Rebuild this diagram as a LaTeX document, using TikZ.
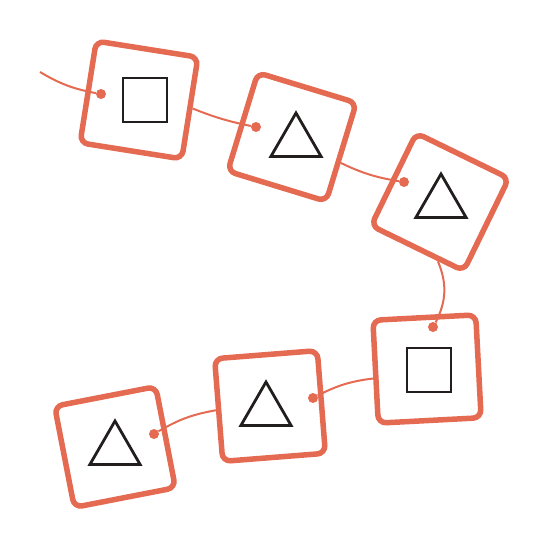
\documentclass[tikz,border=0pt]{standalone}
\usepackage{tikz}
\usetikzlibrary{shapes.geometric}
\definecolor{myred}{RGB}{229,106,82}
\definecolor{mydark}{RGB}{35,30,30}

\begin{document}
\begin{tikzpicture}[x=1pt,y=1pt,
        boxnode/.style={draw=myred,line width=5.5pt,rounded corners=8pt,minimum size=103pt,inner sep=0pt},
        sqnode/.style={draw=mydark,line width=2.8pt,minimum size=44pt,inner sep=0pt},
        trinode/.style={draw=mydark,line width=2.8pt,regular polygon,regular polygon sides=3,minimum size=58pt,inner sep=0pt},
        dotnode/.style={circle,fill=myred,minimum size=10pt,inner sep=0pt},
        link/.style={draw=myred,line width=2pt}
      ]
      \useasboundingbox (0,0) rectangle (550,-550);

      % the boxes
      \foreach \i/\x/\y/\r in {1/139/-100/-9, 2/292/-137/-17, 3/440/-202/-26,
                               4/427/-369/3, 5/270/-406/4.5, 6/115/-447/11}
        \node[boxnode,rotate=\r] (b\i) at (\x,\y) {};

      % the symbols
      \node[sqnode] (s1) at (145,-100) {};
      \node[trinode] (s2) at (296,-142) {};
      \node[trinode] (s3) at (441,-203) {};
      \node[sqnode] (s4) at (429,-370) {};
      \node[trinode] (s5) at (266,-411) {};
      \node[trinode] (s6) at (115,-450) {};

      % the dots
      \foreach \i/\x/\y in {1/101/-94, 2/256/-127, 3/404/-182,
                            4/433/-327, 5/313/-398, 6/154/-434}
        \node[dotnode] (d\i) at (\x,\y) {};

      % the links
      \coordinate (start) at (40,-72);
      \draw[link] (start) to[bend right=10] (d1);
      \draw[link] (b1.east) to[bend right=5] (d2);
      \draw[link] (b2.-11) to[bend right=8] (d3);
      \draw[link] (b3.-66) to[bend left=25] (d4);
      \draw[link] (b4.187) to[bend right=10] (d5);
      \draw[link] (b5.west) to[bend right=10] (d6);
 \end{tikzpicture}
\end{document}
